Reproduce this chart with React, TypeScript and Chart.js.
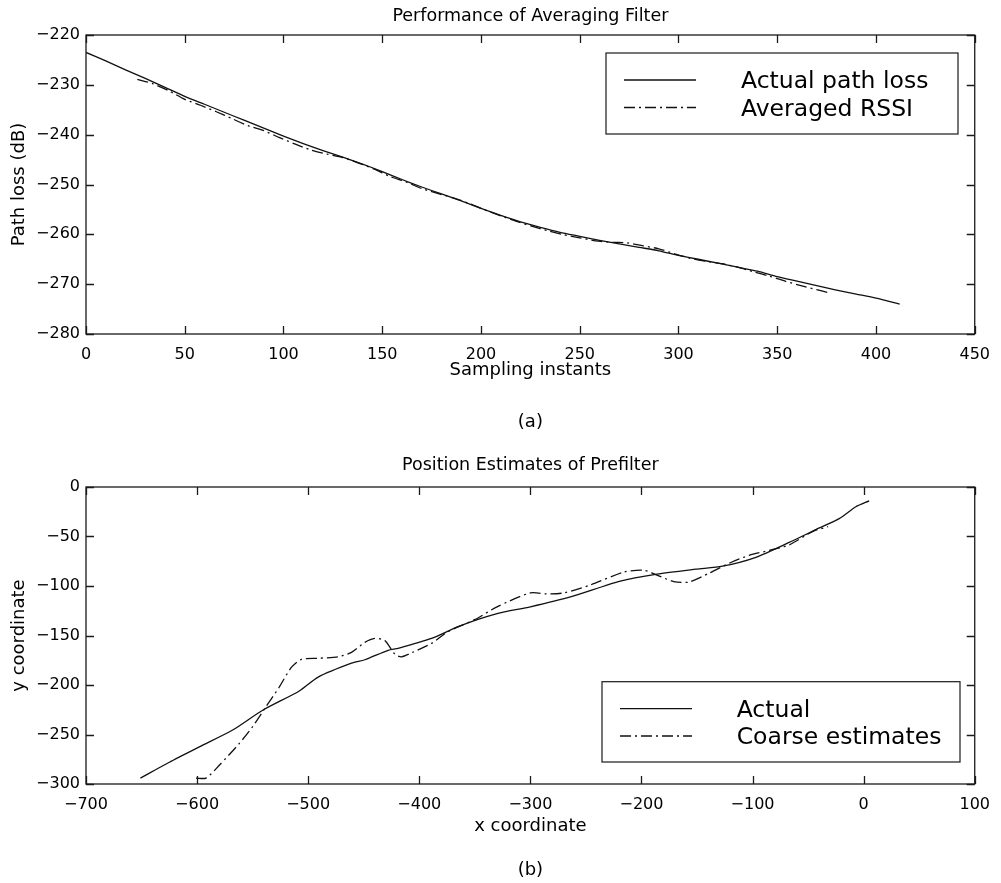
import React, { useEffect, useRef } from "react";
import { Chart, registerables } from "chart.js";

Chart.register(...registerables);

const FONT = "'DejaVu Sans', 'Liberation Sans', sans-serif";
const INK = "#1a1a1a";

// ---------- Panel (a): Performance of Averaging Filter ----------
const sampleInstants = [0, 10, 20, 30, 40, 50, 60, 70, 80, 90, 100, 110, 120, 130, 140, 150, 160, 170, 180, 190, 200, 210, 220, 230, 240, 250, 260, 270, 280, 290, 300, 310, 320, 330, 340, 350, 360, 370, 380, 390, 400, 412];
const actualPathLoss = [-223.5, -225.2, -227.0, -228.7, -230.5, -232.3, -233.9, -235.5, -237.1, -238.7, -240.3, -241.8, -243.2, -244.5, -245.9, -247.4, -249.0, -250.5, -251.9, -253.3, -254.8, -256.2, -257.5, -258.6, -259.6, -260.4, -261.2, -261.9, -262.6, -263.3, -264.2, -265.0, -265.8, -266.6, -267.4, -268.5, -269.4, -270.3, -271.2, -272.0, -272.8, -274.0];
const rssiInstants = [26, 34, 42, 50, 58, 66, 74, 82, 90, 98, 106, 114, 122, 130, 138, 146, 154, 162, 170, 178, 186, 194, 202, 210, 218, 226, 234, 242, 250, 258, 266, 274, 282, 290, 298, 306, 314, 322, 330, 338, 346, 354, 362, 370, 376];
const averagedRssi = [-228.9, -229.8, -231.2, -232.9, -234.1, -235.4, -236.8, -238.2, -239.2, -240.6, -241.9, -243.1, -243.9, -244.6, -245.7, -246.9, -248.4, -249.5, -250.8, -251.8, -252.7, -253.8, -255.1, -256.3, -257.4, -258.4, -259.3, -260.1, -260.7, -261.3, -261.6, -261.7, -262.3, -262.9, -263.9, -264.8, -265.4, -265.9, -266.6, -267.5, -268.4, -269.4, -270.3, -271.1, -271.7];
const pathLossXTicks = [0, 50, 100, 150, 200, 250, 300, 350, 400, 450];
const pathLossYTicks = [-280, -270, -260, -250, -240, -230, -220];

// ---------- Panel (b): Position Estimates of Prefilter ----------
const actualX = [-651, -625, -598, -568, -541, -508, -491, -461, -449, -428, -419, -389, -365, -330, -300, -264, -219, -186, -151, -127, -97, -67, -43, -22, -7, 5];
const actualY = [-294, -278, -262.5, -245.5, -225.5, -206, -192, -178, -174.5, -165, -163, -153, -141, -128, -121, -111, -95, -88, -83, -80, -71, -56, -43, -32, -20, -14];
const coarseX = [-601, -592, -580, -562, -550, -538, -526, -515, -506, -491, -473, -461, -449, -440, -431, -422, -416, -406, -389, -374, -350, -330, -300, -285, -270, -246, -216, -198, -186, -171, -157, -139, -121, -103, -85, -67, -46, -32];
const coarseY = [-294, -294, -281, -259, -242, -222, -202, -182, -174, -173, -171.5, -167, -157, -153, -155, -169, -171.5, -167, -158, -146, -134, -121, -107, -108, -107, -99, -86, -84, -89, -95.5, -96, -87, -77, -69, -64, -58.5, -45, -40];
const posXTicks = [-700, -600, -500, -400, -300, -200, -100, 0, 100];
const posYTicks = [-300, -250, -200, -150, -100, -50, 0];

const DASH_DOT = [11, 4, 2, 4];

const toPoints = (xs: number[], ys: number[]) => xs.map((x, i) => ({ x, y: ys[i] }));
const fmt = (v: number | string) => String(v).replace("-", "\u2212");

// Frame with inward ticks on all four sides (MATLAB style)
const framePlugin = {
  id: "frame",
  afterDatasetsDraw(chart: any) {
    const { ctx, chartArea: a, scales } = chart;
    const x = scales.x;
    const y = scales.y;
    const L = 8;
    ctx.save();
    ctx.strokeStyle = INK;
    ctx.lineWidth = 1.3;
    ctx.beginPath();
    x.ticks.forEach((t: any) => {
      const px = Math.round(x.getPixelForValue(t.value)) + 0.5;
      ctx.moveTo(px, a.bottom);
      ctx.lineTo(px, a.bottom - L);
      ctx.moveTo(px, a.top);
      ctx.lineTo(px, a.top + L);
    });
    y.ticks.forEach((t: any) => {
      const py = Math.round(y.getPixelForValue(t.value)) + 0.5;
      ctx.moveTo(a.left, py);
      ctx.lineTo(a.left + L, py);
      ctx.moveTo(a.right, py);
      ctx.lineTo(a.right - L, py);
    });
    ctx.stroke();
    ctx.strokeRect(a.left, a.top, a.right - a.left, a.bottom - a.top);
    ctx.restore();
  },
};

// Boxed legend inside the plot area
const boxLegendPlugin = {
  id: "boxLegend",
  afterDraw(chart: any, _args: any, opts: any) {
    const { ctx, chartArea: a } = chart;
    const bx = a.left + opts.left;
    const by = a.top + opts.top;
    ctx.save();
    ctx.fillStyle = "#ffffff";
    ctx.fillRect(bx, by, opts.width, opts.height);
    ctx.strokeStyle = INK;
    ctx.lineWidth = 1.2;
    ctx.strokeRect(bx, by, opts.width, opts.height);
    ctx.font = `${opts.fontSize}px ${FONT}`;
    ctx.textBaseline = "alphabetic";
    ctx.textAlign = "left";
    chart.data.datasets.forEach((ds: any, i: number) => {
      const ry = by + opts.rowTop + i * opts.rowGap;
      ctx.beginPath();
      ctx.setLineDash(ds.borderDash || []);
      ctx.lineWidth = ds.borderWidth;
      ctx.strokeStyle = ds.borderColor;
      ctx.moveTo(bx + opts.sampleLeft, ry);
      ctx.lineTo(bx + opts.sampleLeft + opts.sampleLength, ry);
      ctx.stroke();
      ctx.setLineDash([]);
      ctx.fillStyle = "#000";
      ctx.fillText(ds.label, bx + opts.textLeft, ry + opts.fontSize * 0.36);
    });
    ctx.restore();
  },
};

type Series = { label: string; xs: number[]; ys: number[]; dash: number[] };
type Panel = {
  height: number;
  title: string;
  titlePad: { top: number; bottom: number };
  subtitle: string;
  subtitlePad: { top: number; bottom: number };
  xLabel: string;
  xLabelPadBottom: number;
  yLabel: string;
  xScaleHeight: number;
  xTicks: number[];
  yTicks: number[];
  series: Series[];
  legend: any;
};

function buildConfig(p: Panel): any {
  const tickFont = { family: FONT, size: 16 };
  return {
    type: "scatter",
    data: {
      datasets: p.series.map((s) => ({
        label: s.label,
        data: toPoints(s.xs, s.ys),
        showLine: true,
        borderColor: "#111",
        borderWidth: 1.3,
        borderDash: s.dash,
        pointRadius: 0,
        tension: 0.25,
        fill: false,
      })),
    },
    options: {
      responsive: false,
      animation: false,
      devicePixelRatio: 1,
      layout: { padding: { left: 0, right: 21, top: 0, bottom: 0 } },
      plugins: {
        legend: { display: false },
        tooltip: { enabled: false },
        title: {
          display: true,
          text: p.title,
          fullSize: false,
          color: "#000",
          font: { family: FONT, size: 17.5, weight: "normal", lineHeight: 1.2 },
          padding: p.titlePad,
        },
        subtitle: {
          display: true,
          text: p.subtitle,
          position: "bottom",
          fullSize: false,
          color: "#000",
          font: { family: FONT, size: 18, weight: "normal", lineHeight: 1.2 },
          padding: p.subtitlePad,
        },
        boxLegend: p.legend,
      },
      scales: {
        x: {
          type: "linear",
          min: p.xTicks[0],
          max: p.xTicks[p.xTicks.length - 1],
          afterBuildTicks: (sc: any) => {
            sc.ticks = p.xTicks.map((v) => ({ value: v }));
          },
          afterFit: (sc: any) => {
            sc.height = p.xScaleHeight;
          },
          grid: { display: false, drawTicks: false },
          border: { display: false },
          ticks: {
            font: tickFont,
            color: "#000",
            padding: 11,
            maxRotation: 0,
            autoSkip: false,
            callback: (v: any) => fmt(v),
          },
          title: {
            display: true,
            text: p.xLabel,
            color: "#000",
            font: { family: FONT, size: 18, lineHeight: 1.2 },
            padding: { top: 0, bottom: p.xLabelPadBottom },
          },
        },
        y: {
          type: "linear",
          min: p.yTicks[0],
          max: p.yTicks[p.yTicks.length - 1],
          afterBuildTicks: (sc: any) => {
            sc.ticks = p.yTicks.map((v) => ({ value: v }));
          },
          afterFit: (sc: any) => {
            sc.width = 86;
          },
          grid: { display: false, drawTicks: false },
          border: { display: false },
          ticks: {
            font: tickFont,
            color: "#000",
            padding: 6,
            autoSkip: false,
            callback: (v: any) => fmt(v),
          },
          title: {
            display: true,
            text: p.yLabel,
            color: "#000",
            font: { family: FONT, size: 18, lineHeight: 1.2 },
            padding: { top: 8.2, bottom: 0 },
          },
        },
      },
    },
    plugins: [framePlugin, boxLegendPlugin],
  };
}

const panelA: Panel = {
  height: 441,
  title: "Performance of Averaging Filter",
  titlePad: { top: 5.5, bottom: 8.5 },
  subtitle: "(a)",
  subtitlePad: { top: 0, bottom: 8 },
  xLabel: "Sampling instants",
  xLabelPadBottom: 30.5,
  yLabel: "Path loss (dB)",
  xScaleHeight: 77.4,
  xTicks: pathLossXTicks,
  yTicks: pathLossYTicks,
  series: [
    { label: "Actual path loss", xs: sampleInstants, ys: actualPathLoss, dash: [] },
    { label: "Averaged RSSI", xs: rssiInstants, ys: averagedRssi, dash: DASH_DOT },
  ],
  legend: { left: 520, top: 18, width: 352, height: 81, sampleLeft: 18, sampleLength: 72, textLeft: 135, rowTop: 27, rowGap: 27.5, fontSize: 23.5 },
};

const panelB: Panel = {
  height: 442,
  title: "Position Estimates of Prefilter",
  titlePad: { top: 13.7, bottom: 11.3 },
  subtitle: "(b)",
  subtitlePad: { top: 0, bottom: 2.2 },
  xLabel: "x coordinate",
  xLabelPadBottom: 22,
  yLabel: "y coordinate",
  xScaleHeight: 75.2,
  xTicks: posXTicks,
  yTicks: posYTicks,
  series: [
    { label: "Actual", xs: actualX, ys: actualY, dash: [] },
    { label: "Coarse estimates", xs: coarseX, ys: coarseY, dash: DASH_DOT },
  ],
  legend: { left: 516, top: 194.7, width: 358, height: 80.3, sampleLeft: 18, sampleLength: 72, textLeft: 134.7, rowTop: 27, rowGap: 27.3, fontSize: 23.5 },
};

function PanelChart({ panel, top }: { panel: Panel; top: number }) {
  const ref = useRef<HTMLCanvasElement | null>(null);
  useEffect(() => {
    if (!ref.current) return;
    const chart = new Chart(ref.current, buildConfig(panel));
    return () => chart.destroy();
  }, [panel]);
  return (
    <canvas
      ref={ref}
      width={1001}
      height={panel.height}
      style={{ position: "absolute", left: 0, top, width: 1001, height: panel.height, display: "block" }}
    />
  );
}

export default function App() {
  return (
    <div style={{ position: "absolute", left: 0, top: 0, width: 1001, height: 883, background: "#fff", overflow: "hidden" }}>
      <PanelChart panel={panelA} top={0} />
      <PanelChart panel={panelB} top={441} />
    </div>
  );
}
